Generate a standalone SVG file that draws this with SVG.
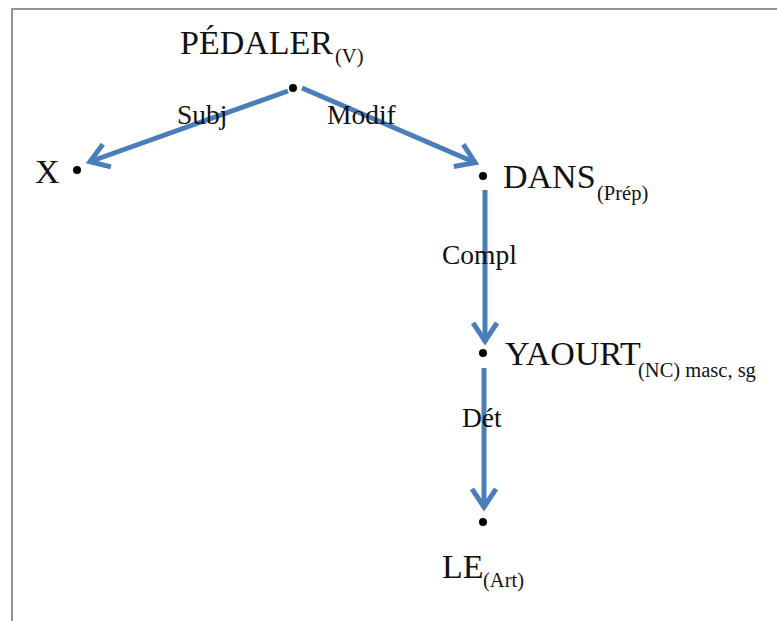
<svg xmlns="http://www.w3.org/2000/svg" width="777" height="621" viewBox="0 0 777 621">
<style>
.n{font-family:"Liberation Serif","Times New Roman",serif;font-size:34px;fill:#111}
.s{font-family:"Liberation Serif","Times New Roman",serif;font-size:20.5px;fill:#111}
.l{font-family:"Liberation Serif","Times New Roman",serif;font-size:27.5px;fill:#111}
.e{stroke:#4a7ebb;stroke-width:5;fill:none;marker-end:url(#ah)}
.d{fill:#000}
</style>
<defs>
<marker id="ah" markerUnits="userSpaceOnUse" viewBox="0 0 26 28" markerWidth="26" markerHeight="28" refX="22" refY="14" orient="auto">
<path d="M3,2 L21,14 L3,26" fill="none" stroke="#4a7ebb" stroke-width="5" stroke-linejoin="miter"/>
</marker>
</defs>
<rect x="0" y="0" width="777" height="621" fill="#fff"/>
<path d="M12,621 V9 H777" fill="none" stroke="#707070" stroke-width="1.5"/>
<g id="connectors">
<path class="e" d="M288,91 L89,162"/>
<path class="e" d="M302,88 L476,163"/>
<path class="e" d="M485,190 L485,342"/>
<path class="e" d="M484,368 L484,508"/>
<text class="l" x="177" y="124">Subj</text>
<text class="l" x="327" y="124">Modif</text>
<text class="l" x="442" y="264">Compl</text>
<text class="l" x="462" y="427">Dét</text>
</g>
<g id="pedaler">
<circle class="d" cx="293" cy="88" r="4"/>
<text class="n" x="180" y="54">PÉDALER</text>
<text class="s" x="335" y="63">(V)</text>
</g>
<g id="x">
<circle class="d" cx="77" cy="170" r="4"/>
<text class="n" x="35" y="183">X</text>
</g>
<g id="dans">
<circle class="d" cx="483" cy="176" r="4"/>
<text class="n" x="503" y="188">DANS</text>
<text class="s" x="597" y="200">(Prép)</text>
</g>
<g id="yaourt">
<circle class="d" cx="483" cy="353" r="4"/>
<text class="n" x="505" y="365">YAOURT</text>
<text class="s" x="638" y="377">(NC) masc, sg</text>
</g>
<g id="le">
<circle class="d" cx="483" cy="522" r="4"/>
<text class="n" x="442" y="578">LE</text>
<text class="s" x="483" y="587">(Art)</text>
</g>
</svg>
